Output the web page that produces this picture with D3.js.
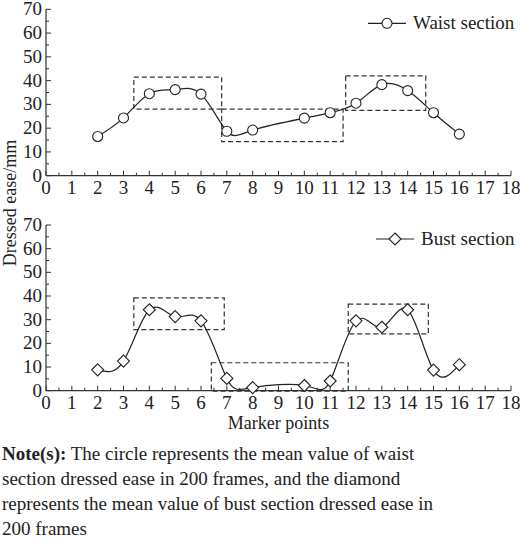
<!DOCTYPE html><html><head><meta charset="utf-8">
<script src="https://cdn.jsdelivr.net/npm/d3@7"></script>
<style>body{margin:0;background:#fff}svg text{font-family:"Times New Roman","Liberation Serif",Times,serif;fill:#222}</style></head><body>
<svg id="c" width="520" height="548" font-family="Times New Roman, Liberation Serif, serif"></svg>
<script>
const xTicks=[0,1,2,3,4,5,6,7,8,9,10,11,12,13,14,15,16,17,18];
const yTicks=[0,10,20,30,40,50,60,70];
const waistX=[2,3,4,5,6,7,8,10,11,12,13,14,15,16];
const waistY=[16.5,24.3,34.5,36.2,34.3,18.7,19.2,24.2,26.5,30.5,38.3,35.8,26.5,17.5];
const bustX=[2,3,4,5,6,7,8,10,11,12,13,14,15,16];
const bustY=[8.8,12.5,34.2,31.3,29.5,5.2,1.3,2.2,4.1,29.5,26.8,34.2,8.7,11];
const waistBoxes=[[3.4,6.8,28,41.5],[6.8,11.5,14.3,28],[11.6,14.7,27.5,42]];
const bustBoxes=[[3.4,6.9,25.8,39.2],[6.4,11.7,-0.2,11.8],[11.7,14.8,24,36.6]];
const svg=d3.select("#c");
const x=d3.scaleLinear().domain([0,18]).range([46,511]);
function panel(top,bottom,xs,ys,boxes,name,diamond){
  const y=d3.scaleLinear().domain([0,70]).range([bottom,top]);
  const g=svg.append("g");
  g.selectAll(".mx").data(d3.range(0,18.01,0.5)).join("line").attr("x1",d=>x(d)).attr("x2",d=>x(d)).attr("y1",bottom).attr("y2",d=>bottom-(d%1===0?5:3)).attr("stroke","#333");
  g.selectAll(".my").data(d3.range(0,70.01,5)).join("line").attr("y1",d=>y(d)).attr("y2",d=>y(d)).attr("x1",x(0)).attr("x2",d=>x(0)+(d%10===0?5:3)).attr("stroke","#333");
  g.append("line").attr("x1",x(0)).attr("x2",x(18)).attr("y1",bottom).attr("y2",bottom).attr("stroke","#333").attr("stroke-width",1.2);
  g.append("line").attr("x1",x(0)).attr("x2",x(0)).attr("y1",bottom).attr("y2",top).attr("stroke","#333").attr("stroke-width",1.2);
  g.selectAll(".xl").data(xTicks).join("text").attr("x",d=>x(d)).attr("y",bottom+18).attr("text-anchor","middle").attr("font-size",19).text(d=>d);
  g.selectAll(".yl").data(yTicks).join("text").attr("x",x(0)-4).attr("y",d=>y(d)+6).attr("text-anchor","end").attr("font-size",19).text(d=>d);
  g.selectAll(".bx").data(boxes).join("rect").attr("x",d=>x(d[0])).attr("y",d=>y(d[3])).attr("width",d=>x(d[1])-x(d[0])).attr("height",d=>y(d[2])-y(d[3])).attr("fill","none").attr("stroke","#333").attr("stroke-dasharray","5,3").attr("stroke-width",1.2);
  const pts=xs.map((v,i)=>[v,ys[i]]);
  g.append("path").attr("d",d3.line().x(d=>x(d[0])).y(d=>y(d[1])).curve(d3.curveNatural)(pts)).attr("fill","none").attr("stroke","#222").attr("stroke-width",1.2);
  const mark=(sel,cx,cy)=>{ if(diamond) sel.append("path").attr("d",`M${cx},${cy-6}L${cx+6},${cy}L${cx},${cy+6}L${cx-6},${cy}Z`).attr("fill","#fff").attr("stroke","#222").attr("stroke-width",1.1);
    else sel.append("circle").attr("cx",cx).attr("cy",cy).attr("r",5).attr("fill","#fff").attr("stroke","#222").attr("stroke-width",1.1);};
  pts.forEach(p=>mark(g,x(p[0]),y(p[1])));
  const ly=top+14, lx=diamond?376:368;
  g.append("line").attr("x1",lx).attr("x2",lx+38).attr("y1",ly).attr("y2",ly).attr("stroke","#222").attr("stroke-width",1.2);
  mark(g,lx+19,ly);
  g.append("text").attr("x",lx+45).attr("y",ly+6).attr("font-size",19).text(name);
}
panel(9.3,175.7,waistX,waistY,waistBoxes,"Waist section",false);
panel(225,390.7,bustX,bustY,bustBoxes,"Bust section",true);
svg.append("text").attr("transform","translate(16,203) rotate(-90)").attr("text-anchor","middle").attr("font-size",18).text("Dressed ease/mm");
svg.append("text").attr("x",x(9)).attr("y",429).attr("text-anchor","middle").attr("font-size",18).text("Marker points");
const note=["The circle represents the mean value of waist","section dressed ease in 200 frames, and the diamond","represents the mean value of bust section dressed ease in","200 frames"];
const t=svg.append("text").attr("font-size",19);
note.forEach((l,i)=>{const ts=t.append("tspan").attr("x",2).attr("y",460+i*25);
 if(i===0){ts.append("tspan").attr("font-weight","bold").text("Note(s):");ts.append("tspan").text(" "+l);} else ts.text(l);});
</script></body></html>
